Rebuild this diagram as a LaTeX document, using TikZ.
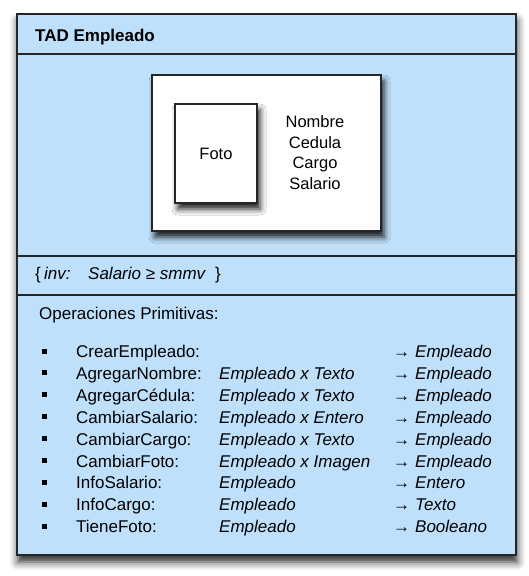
\documentclass[tikz,border=0pt]{standalone}
\usepackage{fontspec}
\setmainfont{Liberation Sans}
\usetikzlibrary{shadows.blur}
\definecolor{tadblue}{RGB}{191,224,251}
\begin{document}
\begin{tikzpicture}[x=1pt,y=-1pt,
  txt/.style={anchor=base west, inner sep=0pt, font=\fontsize{17}{20}\selectfont},
  ctxt/.style={anchor=base, inner sep=0pt, font=\fontsize{16.5}{20}\selectfont},
  it/.style={txt, font=\fontsize{17}{20}\selectfont\itshape},
  bul/.style={fill=black, inner sep=0pt, minimum size=5pt},
  sect/.style={draw=black!85, line width=1.2pt},
  whitebox/.style={draw=black!85, line width=1.2pt, fill=white,
    blur shadow={shadow xshift=3pt, shadow yshift=-6pt, shadow blur radius=6pt, shadow opacity=90}},
]
\useasboundingbox (0,0) rectangle (528,576);
% outer frame
\path[fill=tadblue, draw=black!85, line width=1.2pt,
  blur shadow={shadow xshift=1pt, shadow yshift=-7pt, shadow blur radius=8pt, shadow opacity=85}]
  (17,14) rectangle (516,555);
\draw[sect] (17,54) -- (516,54);
\draw[sect] (17,256) -- (516,256);
\draw[sect] (17,295) -- (516,295);
\node[txt, font=\fontsize{17}{20}\selectfont\bfseries] (title) at (35,41.5) {TAD Empleado};
% picture boxes
\path[whitebox] (152,75) rectangle (381,231);
\path[whitebox] (175,104) rectangle (257,203);
\node[ctxt] (foto) at (216,159) {Foto};
\node[ctxt] (f1) at (315,127.7) {Nombre};
\node[ctxt] (f2) at (315,148.3) {Cedula};
\node[ctxt] (f3) at (315,168.8) {Cargo};
\node[ctxt] (f4) at (315,189.3) {Salario};
% invariant
\node[txt] (inv1) at (35,279.5) {\{};
\node[it] (inv2) at (44,279.5) {inv:};
\node[it] (inv3) at (88,279.5) {Salario \upshape≥\itshape\ smmv};
\node[txt] (inv4) at (215,279.5) {\}};
% operations
\node[txt] (ops) at (39,319) {Operaciones Primitivas:};
\foreach \n/\nm/\ar/\res in {
  0/CrearEmpleado:/{}/Empleado,
  1/AgregarNombre:/{Empleado x Texto}/Empleado,
  2/AgregarCédula:/{Empleado x Texto}/Empleado,
  3/CambiarSalario:/{Empleado x Entero}/Empleado,
  4/CambiarCargo:/{Empleado x Texto}/Empleado,
  5/CambiarFoto:/{Empleado x Imagen}/Empleado,
  6/InfoSalario:/{Empleado}/Entero,
  7/InfoCargo:/{Empleado}/Texto,
  8/TieneFoto:/{Empleado}/Booleano}{
  \pgfmathsetmacro\yb{357.5+21.9*\n}
  \node[bul] (b\n) at (44.5,\yb-6.5) {};
  \node[txt] (n\n) at (76,\yb) {\nm};
  \node[it] (a\n) at (219,\yb) {\ar};
  \node[txt] (r\n) at (393,\yb) {→};
  \node[it] (e\n) at (415,\yb) {\res};
}
\end{tikzpicture}
\end{document}
